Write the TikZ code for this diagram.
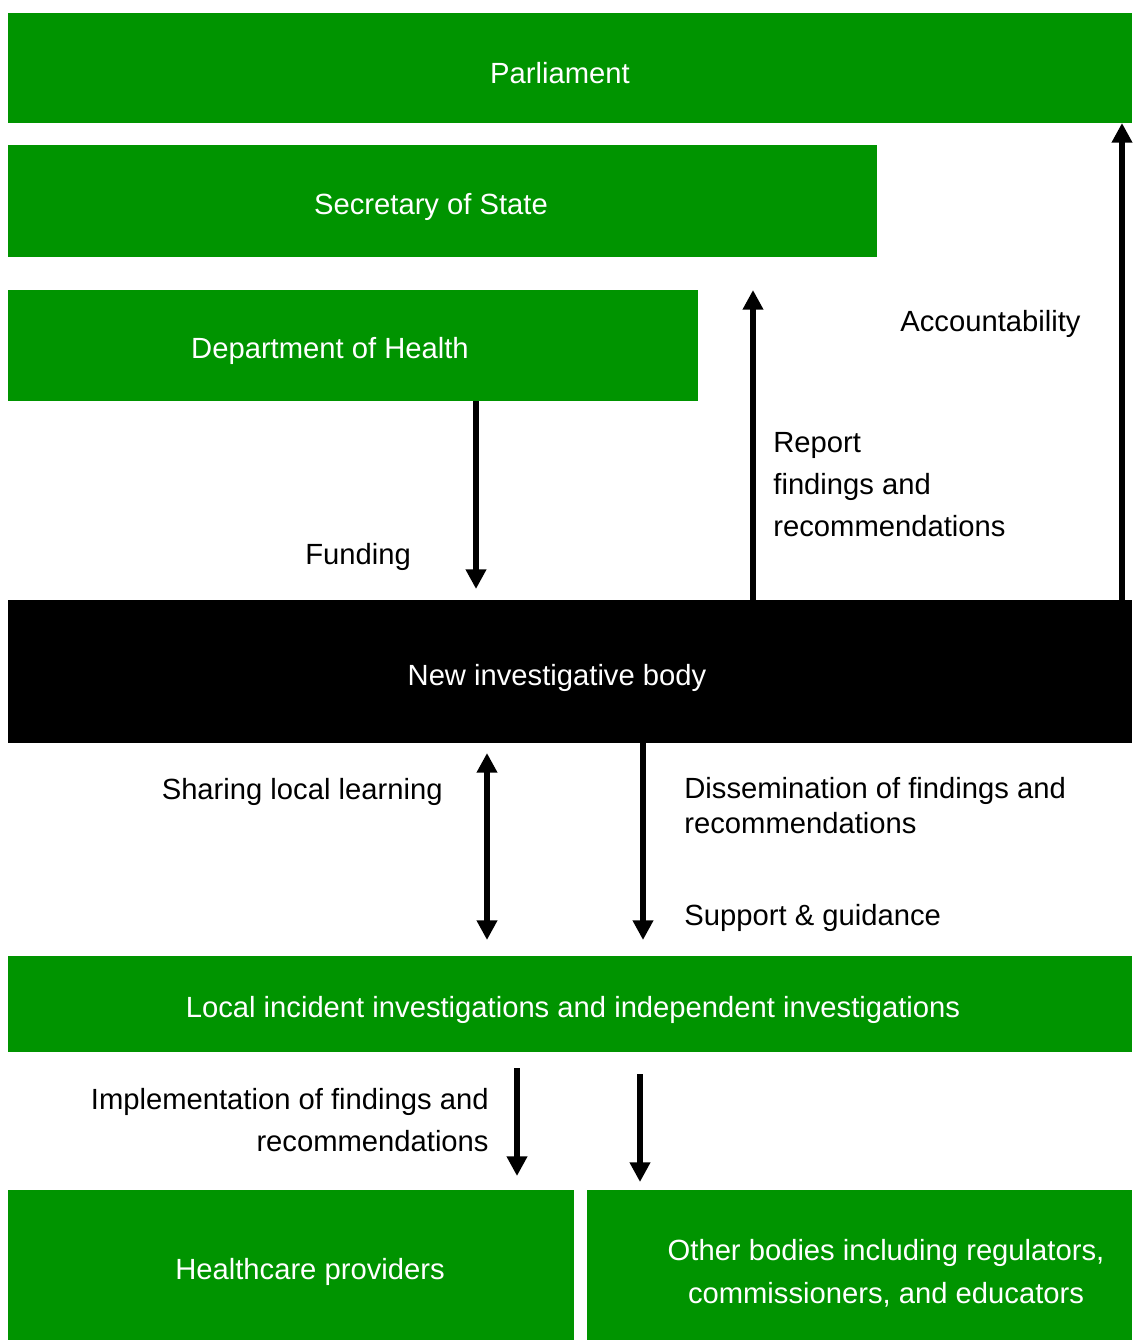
\documentclass[tikz,border=0pt]{standalone}
\usepackage{fontspec}
\setmainfont{Liberation Sans}
\usetikzlibrary{arrows.meta}
\definecolor{boxgreen}{RGB}{0,148,0}
\begin{document}
\begin{tikzpicture}[x=0.5pt,y=-0.5pt,
  font=\fontsize{14.6}{21.25}\selectfont,
  gbox/.style={fill=boxgreen,draw=none,inner sep=0,outer sep=0},
  bbox/.style={fill=black,draw=none,inner sep=0,outer sep=0},
  wtxt/.style={text=white,inner sep=0},
  ktxt/.style={text=black,inner sep=0},
  arr/.style={line width=3.2pt,-{Triangle[width=9.8pt,length=9.8pt]}},
  darr/.style={line width=3.2pt,{Triangle[width=9.8pt,length=9.8pt]}-{Triangle[width=9.8pt,length=9.8pt]}}]
\useasboundingbox (0,0) rectangle (1132,1340);
% boxes
\node[gbox,minimum width=562pt,minimum height=55pt] (parl) at (570,68) {};
\node[gbox,minimum width=434.5pt,minimum height=56pt] (sos) at (442.5,201) {};
\node[gbox,minimum width=345pt,minimum height=55.5pt] (doh) at (353,345.5) {};
\node[bbox,minimum width=562pt,minimum height=71.5pt] (nib) at (570,671.5) {};
\node[gbox,minimum width=562pt,minimum height=48pt] (loc) at (570,1004) {};
\node[gbox,minimum width=283pt,minimum height=75pt] (hcp) at (291,1265) {};
\node[gbox,minimum width=272.5pt,minimum height=75pt] (oth) at (859.5,1265) {};
% box texts
\node[wtxt] (tparl) at (560,73.5) {Parliament};
\node[wtxt] (tsos) at (431,206.5) {Secretary of State};
\node[wtxt] (tdoh) at (330,350.5) {Department of Health};
\node[wtxt] (tnib) at (557,677.5) {New investigative body};
\node[wtxt] (tloc) at (573,1009.5) {Local incident investigations and independent investigations};
\node[wtxt] (thcp) at (310,1271.5) {Healthcare providers};
\node[wtxt,align=center,font=\fontsize{14.6}{21.5}\selectfont] (toth) at (886,1273) {Other bodies including regulators,\\commissioners, and educators};
% labels
\node[ktxt,anchor=west] (lfund) at (305,556.5) {Funding};
\node[ktxt,anchor=north west,align=left] (lrep) at (773,431.5) {Report\\findings and\\recommendations};
\node[ktxt,anchor=west] (lacc) at (900,323.5) {Accountability};
\node[ktxt,anchor=east] (lshare) at (443,791.5) {Sharing local learning};
\node[ktxt,anchor=north west,align=left,font=\fontsize{14.6}{17.5}\selectfont] (ldis) at (684,776.5) {Dissemination of findings and\\recommendations};
\node[ktxt,anchor=west] (lsup) at (684,917.5) {Support \& guidance};
\node[ktxt,anchor=north east,align=right,font=\fontsize{14.6}{21}\selectfont] (limp) at (489,1087.5) {Implementation of findings and\\recommendations};
% free ends
\coordinate (fundend) at (476,589);
\coordinate (repend) at (753,290);
\coordinate (accend) at (1122,123);
\coordinate (sh1) at (487,753);
\coordinate (sh2) at (487,940);
\coordinate (disend) at (643,940);
\coordinate (imp1) at (517,1068);
\coordinate (imp2) at (517,1176);
\coordinate (oth1) at (640,1074);
\coordinate (oth2) at (640,1182);
% connectors
\draw[arr] (doh.south -| fundend) -- (fundend);
\draw[arr] (nib.north -| repend) -- (repend);
\draw[arr] (nib.north -| accend) -- (accend);
\draw[darr] (sh1) -- (sh2);
\draw[arr] (nib.south -| disend) -- (disend);
\draw[arr] (imp1) -- (imp2);
\draw[arr] (oth1) -- (oth2);
\end{tikzpicture}
\end{document}
